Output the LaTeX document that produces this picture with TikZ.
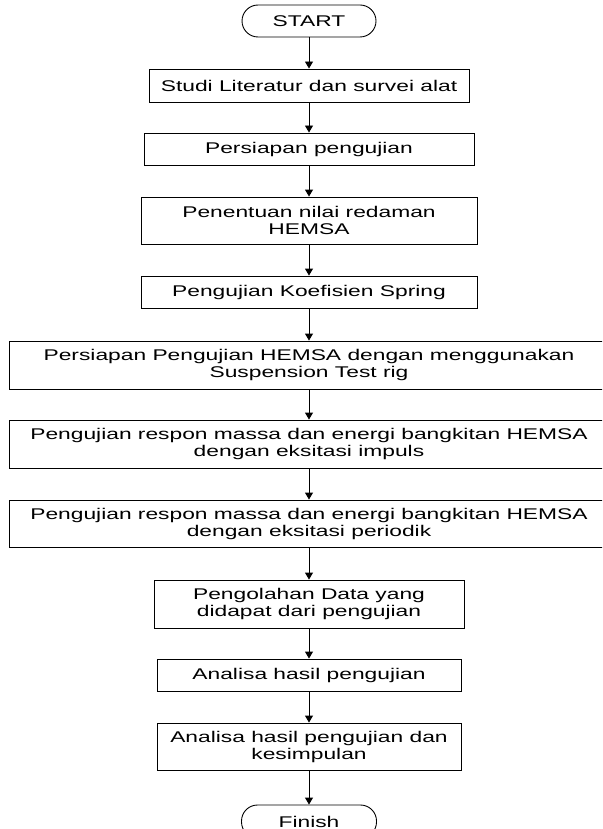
\documentclass[tikz,border=0pt]{standalone}
\usepackage{fontspec}
\setmainfont{Liberation Sans}[FakeStretch=1.47]
\usetikzlibrary{arrows.meta}
\begin{document}
\begin{tikzpicture}[x=1pt,y=-1pt,
  box/.style={draw, line width=0.9pt, inner sep=0pt, align=center,
    font=\fontsize{15.5}{17}\selectfont},
  term/.style={box, rounded corners=16pt},
  flow/.style={draw, line width=0.9pt, -{Triangle[width=8pt,length=7pt]}}]
\clip (0,0) rectangle (602,829);

\node[term, minimum width=134pt, minimum height=32pt] (start) at (309,21) {START};
\node[box, minimum width=320pt, minimum height=33pt] (s1) at (309,85.5) {Studi Literatur dan survei alat};
\node[box, minimum width=330pt, minimum height=32pt] (s2) at (309,149) {Persiapan pengujian};
\node[box, minimum width=336pt, minimum height=47pt] (s3) at (309,220.5) {Penentuan nilai redaman\\HEMSA};
\node[box, minimum width=336pt, minimum height=32pt] (s4) at (309,292) {Pengujian Koefisien Spring};
\node[box, minimum width=600pt, minimum height=48pt] (s5) at (309,365) {Persiapan Pengujian HEMSA dengan menggunakan\\Suspension Test rig};
\node[box, minimum width=600pt, minimum height=48pt] (s6) at (309,444) {Pengujian respon massa dan energi bangkitan HEMSA\\dengan eksitasi impuls};
\node[box, minimum width=600pt, minimum height=47pt] (s7) at (309,523.5) {Pengujian respon massa dan energi bangkitan HEMSA\\dengan eksitasi periodik};
\node[box, minimum width=310pt, minimum height=48pt] (s8) at (309,604) {Pengolahan Data yang\\didapat dari pengujian};
\node[box, minimum width=304pt, minimum height=32pt] (s9) at (309,675) {Analisa hasil pengujian};
\node[box, minimum width=304pt, minimum height=47pt] (s10) at (309,746.5) {Analisa hasil pengujian dan\\kesimpulan};
\node[term, minimum width=135pt, minimum height=33pt] (finish) at (309,821.5) {Finish};

\draw[flow] (start) -- (s1);
\draw[flow] (s1) -- (s2);
\draw[flow] (s2) -- (s3);
\draw[flow] (s3) -- (s4);
\draw[flow] (s4) -- (s5);
\draw[flow] (s5) -- (s6);
\draw[flow] (s6) -- (s7);
\draw[flow] (s7) -- (s8);
\draw[flow] (s8) -- (s9);
\draw[flow] (s9) -- (s10);
\draw[flow] (s10) -- (finish);
\end{tikzpicture}
\end{document}
